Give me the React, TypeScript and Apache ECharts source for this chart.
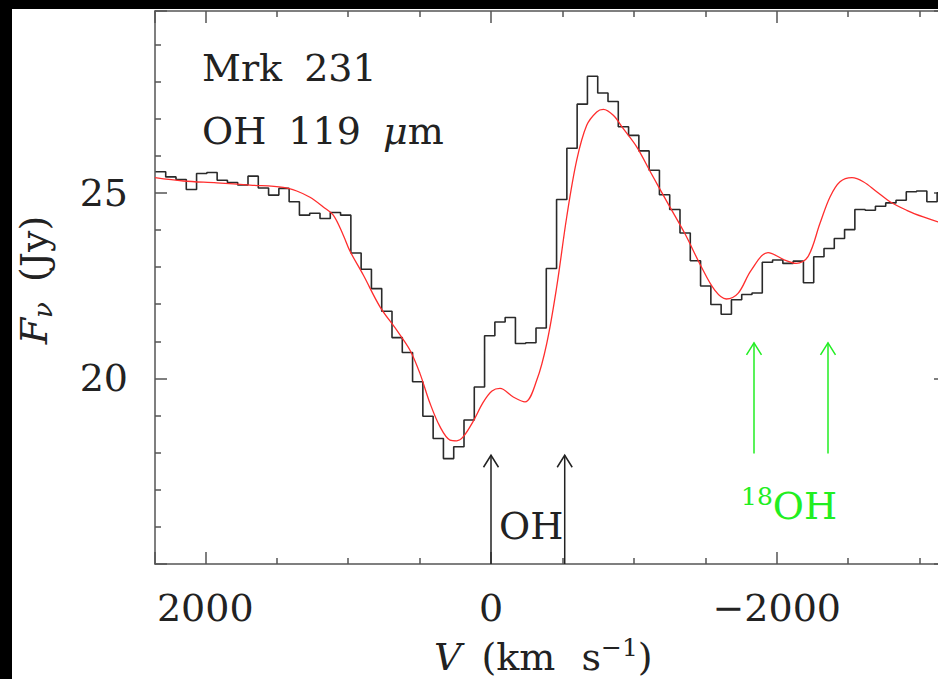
import React, { useEffect, useRef } from "react";
import * as echarts from "echarts";

// Histogram bin left edges (km/s, plotted on a reversed axis) and flux per bin (Jy)
const binEdges = [
  2349, 2277, 2205, 2133, 2061, 1989, 1917, 1845, 1773, 1701, 1629, 1557, 1485, 1413, 1341, 1269,
  1197, 1125, 1053, 981, 909, 837, 765, 693, 621, 549, 477, 405, 333, 261, 189, 117, 45, -27, -99,
  -171, -243, -315, -387, -459, -531, -603, -675, -747, -819, -891, -963, -1035, -1107, -1179,
  -1251, -1323, -1395, -1467, -1539, -1611, -1683, -1755, -1827, -1899, -1971, -2043, -2115, -2187,
  -2259, -2331, -2403, -2475, -2547, -2619, -2691, -2763, -2835, -2907, -2979, -3051, -3123, -3195,
];
const binFlux = [
  25.57, 25.43, 25.36, 25.09, 25.52, 25.55, 25.34, 25.28, 25.21, 25.45, 25.13, 24.94, 25.12, 24.76,
  24.4, 24.45, 24.31, 24.47, 24.4, 23.38, 22.94, 22.42, 21.81, 21.1, 20.7, 19.91, 18.98, 18.38,
  17.84, 18.16, 18.88, 19.77, 21.15, 21.52, 21.64, 20.94, 20.96, 21.36, 22.96, 24.82, 26.2, 27.39,
  28.14, 27.69, 27.46, 26.78, 26.55, 26.13, 25.61, 24.95, 24.55, 23.92, 23.17, 22.49, 21.99, 21.73,
  22.12, 22.26, 22.3, 23.13, 23.19, 23.1, 23.16, 22.58, 23.28, 23.5, 23.77, 24.01, 24.55, 24.53,
  24.64, 24.73, 24.8, 25.03, 25.05, 24.76, 25.0,
];

// Model fit curve
const modelV = [
  2352, 2154, 1920, 1687, 1454, 1360, 1267, 1174, 1104, 1034, 987, 893, 777, 660, 567, 497, 427,
  357, 287, 240, 194, 124, 54, -7, -63, -156, -238, -320, -390, -460, -530, -600, -670, -740, -786,
  -856, -926, -1020, -1122, -1239, -1356, -1472, -1566, -1647, -1729, -1822, -1939, -2056, -2137,
  -2219, -2303, -2373, -2443, -2527, -2606, -2700, -2793, -2910, -3026, -3129, -3185,
];
const modelF = [
  25.41, 25.32, 25.27, 25.21, 25.15, 25.05, 24.88, 24.62, 24.4, 23.86, 23.43, 22.78, 21.93, 21.3,
  20.76, 20.13, 19.33, 18.7, 18.34, 18.32, 18.43, 18.85, 19.36, 19.66, 19.73, 19.5, 19.37, 19.95,
  20.94, 22.47, 24.35, 25.88, 26.82, 27.18, 27.25, 27.09, 26.73, 26.24, 25.52, 24.71, 23.91, 23.01,
  22.38, 22.14, 22.29, 22.92, 23.39, 23.19, 23.1, 23.28, 24.18, 24.89, 25.3, 25.41, 25.3, 25.03,
  24.76, 24.53, 24.35, 24.22, 24.17,
];

// Line markers
const ohArrowV = [0, -516];
const ohArrowFrom = 15;
const ohArrowTo = 17.93;
const o18ArrowV = [-1841, -2359];
const o18ArrowFrom = 17.98;
const o18ArrowTo = 20.96;

const xMin = -3185;
const xMax = 2352;
const yMin = 15;
const yMax = 29.9;

const FONT = "DejaVu Serif";
const TXT = "#222";
const AX = "#555";
const GREEN = "#22ee22";

function arrowSeries(vs: number[], from: number, to: number, color: string) {
  return {
    type: "custom",
    clip: false,
    silent: true,
    z: 5,
    encode: { x: 0, y: 1 },
    data: vs.map((v) => [v, from, to]),
    renderItem: (params: any, api: any) => {
      const p0 = api.coord([api.value(0), api.value(1)]);
      const p1 = api.coord([api.value(0), api.value(2)]);
      return {
        type: "group",
        children: [
          {
            type: "line",
            shape: { x1: p0[0], y1: p0[1], x2: p1[0], y2: p1[1] },
            style: { stroke: color, lineWidth: 1.5 },
          },
          {
            type: "polyline",
            shape: {
              points: [
                [p1[0] - 7.5, p1[1] + 12],
                [p1[0], p1[1]],
                [p1[0] + 7.5, p1[1] + 12],
              ],
            },
            style: { stroke: color, fill: null, lineWidth: 1.5 },
          },
        ],
      };
    },
  };
}

const tickStyle = { color: AX, width: 1.5 };

function xAxisDef(pos: "top" | "bottom", labels: boolean) {
  return {
    type: "value",
    position: pos,
    inverse: true,
    min: xMin,
    max: xMax,
    minInterval: 2000,
    maxInterval: 2000,
    splitNumber: 3,
    axisLine: { show: true, onZero: false, lineStyle: { color: AX, width: 1.5 } },
    axisTick: { show: true, inside: true, length: 12, lineStyle: tickStyle },
    minorTick: { show: true, splitNumber: 4, length: 6, lineStyle: tickStyle },
    splitLine: { show: false },
    axisLabel: {
      show: labels,
      showMinLabel: false,
      showMaxLabel: false,
      margin: 25,
      fontFamily: FONT,
      fontSize: 38,
      color: TXT,
      formatter: (v: number) =>
        Math.abs(v % 2000) < 1e-6 ? (v < 0 ? "\u2212" + Math.abs(v) : String(v)) : "",
    },
  };
}

function yAxisDef(pos: "left" | "right", labels: boolean) {
  return {
    type: "value",
    position: pos,
    min: yMin,
    max: yMax,
    minInterval: 5,
    maxInterval: 5,
    splitNumber: 3,
    axisLine: { show: true, onZero: false, lineStyle: { color: AX, width: 1.5 } },
    axisTick: { show: true, inside: true, length: 12, lineStyle: tickStyle },
    minorTick: { show: true, splitNumber: 5, length: 6, lineStyle: tickStyle },
    splitLine: { show: false },
    axisLabel: {
      show: labels,
      showMinLabel: false,
      showMaxLabel: false,
      margin: 27,
      fontFamily: FONT,
      fontSize: 38,
      color: TXT,
      formatter: (v: number) => (Math.abs(v % 5) < 1e-6 && v > 15 ? String(v) : ""),
    },
  };
}

export default function App() {
  const ref = useRef<HTMLDivElement>(null);
  useEffect(() => {
    const chart = echarts.init(ref.current as HTMLDivElement, null, { renderer: "svg" });
    const histData = binEdges.map((e, i) => [e, binFlux[Math.min(i, binFlux.length - 1)]]);
    const modelData = modelV.map((v, i) => [v, modelF[i]]);
    const base = { fontFamily: FONT, fontSize: 38, fill: TXT, lineHeight: 44 };
    const option: any = {
      animation: false,
      backgroundColor: "transparent",
      grid: { left: 155, right: 14, top: 11, bottom: 115, containLabel: false },
      xAxis: [xAxisDef("bottom", true), xAxisDef("top", false)],
      yAxis: [yAxisDef("left", true), yAxisDef("right", false)],
      series: [
        {
          type: "line",
          name: "data",
          step: "end",
          data: histData,
          showSymbol: false,
          symbol: "none",
          lineStyle: { color: "#2a2a2a", width: 1.6 },
          z: 3,
        },
        {
          type: "line",
          name: "model",
          data: modelData,
          smooth: 0.35,
          showSymbol: false,
          symbol: "none",
          lineStyle: { color: "#ff2d2d", width: 1.3 },
          z: 4,
        },
        arrowSeries(ohArrowV, ohArrowFrom, ohArrowTo, "#222"),
        arrowSeries(o18ArrowV, o18ArrowFrom, o18ArrowTo, GREEN),
      ],
      graphic: [
        {
          type: "text",
          x: 202,
          y: 68,
          style: {
            text: "{a|Mrk }{b|231}",
            align: "left",
            verticalAlign: "middle",
            rich: { a: { ...base }, b: { ...base, padding: [0, 0, 0, 10] } },
          },
        },
        {
          type: "text",
          x: 202,
          y: 131,
          style: {
            text: "{a|OH }{b|119 }{c|\u03bc}{a|m}",
            align: "left",
            verticalAlign: "middle",
            rich: {
              a: { ...base },
              b: { ...base, padding: [0, 0, 0, 10] },
              c: { ...base, fontStyle: "italic", padding: [0, 0, 0, 10] },
            },
          },
        },
        {
          type: "text",
          x: 499,
          y: 526,
          style: {
            text: "OH",
            fontFamily: FONT,
            fontSize: 38,
            fill: TXT,
            align: "left",
            verticalAlign: "middle",
          },
        },
        {
          type: "text",
          x: 741,
          y: 506,
          style: {
            text: "{s|18}{a|OH}",
            align: "left",
            verticalAlign: "middle",
            rich: {
              s: { fontFamily: FONT, fontSize: 25, fill: GREEN, lineHeight: 8, verticalAlign: "top" },
              a: { fontFamily: FONT, fontSize: 38, fill: GREEN, lineHeight: 44 },
            },
          },
        },
        {
          type: "text",
          x: 434,
          y: 657,
          style: {
            text: "{i|V }{a|(km }{b|s}{s|\u22121}{a|)}",
            align: "left",
            verticalAlign: "middle",
            rich: {
              i: { ...base, fontStyle: "italic", padding: [0, 8, 0, 0] },
              a: { ...base },
              b: { ...base, padding: [0, 0, 0, 14] },
              s: { fontFamily: FONT, fontSize: 25, fill: TXT, lineHeight: 8, verticalAlign: "top" },
            },
          },
        },
        {
          type: "text",
          x: 34,
          y: 280,
          rotation: Math.PI / 2,
          style: {
            text: "{i|F}{v|\u03bd}{a| (Jy)}",
            align: "center",
            verticalAlign: "middle",
            rich: {
              i: { ...base, fontStyle: "italic" },
              v: {
                fontFamily: FONT,
                fontSize: 26,
                fontStyle: "italic",
                fill: TXT,
                lineHeight: 8,
                verticalAlign: "bottom",
                padding: [0, 8, 0, 0],
              },
              a: { ...base },
            },
          },
        },
      ],
    };
    chart.setOption(option);
    return () => chart.dispose();
  }, []);
  return (
    <div
      style={{
        position: "fixed",
        left: 0,
        top: 0,
        width: 938,
        height: 679,
        background: "#000",
        overflow: "hidden",
      }}
    >
      <div
        style={{ position: "absolute", left: 12, top: 9, width: 960, height: 680, background: "#fff" }}
      />
      <div ref={ref} style={{ position: "absolute", left: 0, top: 0, width: 960, height: 679 }} />
    </div>
  );
}
